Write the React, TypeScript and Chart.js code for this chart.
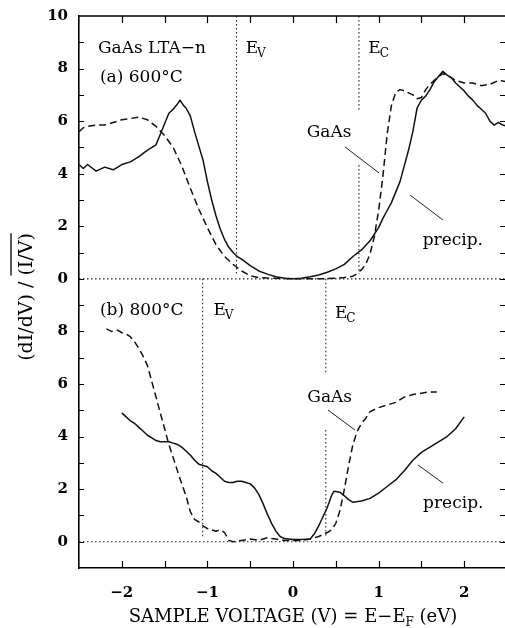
import React, { useEffect, useRef } from "react";
import { Chart, registerables } from "chart.js";

Chart.register(...registerables);

// ---------- Panel (a) 600°C : values relative to the panel's own zero ----------
const aPrecipV = [-2.5, -2.45, -2.4, -2.3, -2.2, -2.1, -2.0, -1.9, -1.8, -1.7, -1.6, -1.55, -1.5, -1.45, -1.4, -1.35, -1.32, -1.28, -1.25, -1.2, -1.15, -1.1, -1.05, -1.0, -0.95, -0.9, -0.85, -0.8, -0.75, -0.7, -0.65, -0.6, -0.5, -0.4, -0.3, -0.2, -0.1, 0.0, 0.1, 0.2, 0.3, 0.4, 0.5, 0.6, 0.7, 0.8, 0.9, 1.0, 1.05, 1.1, 1.15, 1.2, 1.25, 1.3, 1.35, 1.4, 1.45, 1.5, 1.55, 1.6, 1.65, 1.7, 1.75, 1.8, 1.85, 1.9, 1.95, 2.0, 2.05, 2.1, 2.15, 2.2, 2.25, 2.3, 2.35, 2.4, 2.45, 2.5];
const aPrecipY = [4.35, 4.2, 4.35, 4.1, 4.25, 4.15, 4.35, 4.45, 4.65, 4.9, 5.1, 5.5, 5.9, 6.3, 6.45, 6.65, 6.8, 6.6, 6.5, 6.2, 5.6, 5.05, 4.5, 3.7, 3.0, 2.4, 1.9, 1.5, 1.2, 1.0, 0.85, 0.75, 0.5, 0.3, 0.18, 0.08, 0.02, 0.0, 0.02, 0.08, 0.15, 0.25, 0.38, 0.55, 0.85, 1.1, 1.45, 1.95, 2.3, 2.6, 2.9, 3.3, 3.7, 4.3, 4.9, 5.6, 6.5, 6.8, 6.95, 7.2, 7.5, 7.7, 7.9, 7.75, 7.65, 7.45, 7.3, 7.15, 6.95, 6.8, 6.6, 6.45, 6.3, 6.0, 5.85, 5.95, 5.85, 5.8];
const aGaAsV = [-2.5, -2.45, -2.4, -2.3, -2.2, -2.1, -2.0, -1.9, -1.8, -1.7, -1.6, -1.5, -1.4, -1.3, -1.2, -1.1, -1.0, -0.9, -0.8, -0.7, -0.6, -0.5, -0.4, -0.3, 0.0, 0.3, 0.5, 0.6, 0.7, 0.75, 0.8, 0.85, 0.9, 0.95, 1.0, 1.05, 1.1, 1.15, 1.2, 1.25, 1.3, 1.4, 1.45, 1.5, 1.55, 1.6, 1.7, 1.75, 1.8, 1.9, 2.0, 2.1, 2.2, 2.3, 2.4, 2.5];
const aGaAsY = [5.6, 5.75, 5.8, 5.85, 5.85, 5.95, 6.05, 6.1, 6.15, 6.05, 5.8, 5.45, 5.0, 4.3, 3.45, 2.65, 1.95, 1.3, 0.85, 0.55, 0.3, 0.12, 0.05, 0.03, 0.0, 0.0, 0.02, 0.05, 0.1, 0.2, 0.35, 0.55, 0.95, 1.6, 2.6, 3.9, 5.5, 6.6, 7.1, 7.2, 7.15, 7.0, 6.85, 6.9, 7.2, 7.4, 7.7, 7.8, 7.75, 7.55, 7.45, 7.45, 7.35, 7.4, 7.55, 7.5];

// ---------- Panel (b) 800°C ----------
const bPrecipV = [-2.0, -1.95, -1.9, -1.85, -1.8, -1.75, -1.7, -1.65, -1.6, -1.55, -1.5, -1.45, -1.4, -1.35, -1.3, -1.25, -1.2, -1.15, -1.1, -1.05, -1.0, -0.95, -0.9, -0.85, -0.8, -0.75, -0.7, -0.65, -0.6, -0.55, -0.5, -0.45, -0.4, -0.35, -0.3, -0.25, -0.2, -0.15, -0.1, 0.0, 0.1, 0.2, 0.25, 0.3, 0.35, 0.4, 0.45, 0.48, 0.55, 0.6, 0.65, 0.7, 0.8, 0.9, 1.0, 1.1, 1.2, 1.3, 1.4, 1.5, 1.6, 1.7, 1.8, 1.9, 2.0];
const bPrecipY = [4.9, 4.75, 4.6, 4.5, 4.35, 4.2, 4.05, 3.95, 3.85, 3.8, 3.8, 3.8, 3.75, 3.7, 3.6, 3.45, 3.3, 3.1, 2.95, 2.9, 2.85, 2.7, 2.6, 2.45, 2.3, 2.25, 2.25, 2.3, 2.3, 2.25, 2.2, 2.05, 1.8, 1.45, 1.05, 0.7, 0.4, 0.2, 0.12, 0.08, 0.08, 0.1, 0.3, 0.6, 0.95, 1.3, 1.75, 1.92, 1.88, 1.75, 1.6, 1.5, 1.55, 1.65, 1.85, 2.1, 2.35, 2.7, 3.1, 3.4, 3.6, 3.8, 4.0, 4.3, 4.75];
const bGaAsV = [-2.18, -2.12, -2.05, -2.0, -1.95, -1.9, -1.85, -1.8, -1.75, -1.7, -1.65, -1.6, -1.55, -1.5, -1.45, -1.4, -1.35, -1.3, -1.25, -1.2, -1.15, -1.1, -1.05, -1.0, -0.95, -0.9, -0.85, -0.8, -0.75, -0.7, -0.6, -0.5, -0.4, -0.3, -0.2, -0.1, 0.0, 0.1, 0.2, 0.3, 0.4, 0.45, 0.5, 0.55, 0.6, 0.65, 0.7, 0.75, 0.8, 0.85, 0.9, 1.0, 1.1, 1.2, 1.3, 1.4, 1.5, 1.6, 1.68];
const bGaAsY = [8.1, 8.0, 8.05, 7.95, 7.9, 7.8, 7.6, 7.35, 7.05, 6.7, 6.1, 5.5, 4.9, 4.3, 3.7, 3.2, 2.7, 2.2, 1.75, 1.15, 0.85, 0.75, 0.6, 0.5, 0.45, 0.4, 0.45, 0.35, 0.05, 0.0, 0.05, 0.1, 0.05, 0.15, 0.1, 0.05, 0.05, 0.05, 0.1, 0.2, 0.35, 0.45, 0.7, 1.2, 2.0, 2.9, 3.7, 4.2, 4.5, 4.7, 4.95, 5.1, 5.2, 5.3, 5.5, 5.6, 5.65, 5.7, 5.7];

// Panel (a) is stacked on top of panel (b): its zero sits at 10 on the shared axis
const panelOffsetA = 10;
const xRange = [-2.5, 2.5];
const yRange = [-1, 20];

// band edges (eV)
const evA = -0.66;
const ecA = 0.77;
const evB = -1.055;
const ecB = 0.383;
// gaps in the Ec markers where the text sits (shared-axis units)
const ecGapA = [16.42, 14.33];
const ecGapB = [6.42, 4.25];

// tick labels
const xTickValues = [-2, -1, 0, 1, 2];
const xTickLabels = ["\u22122", "\u22121", "0", "1", "2"];
const yTickValues = [0, 2, 4, 6, 8, 10, 12, 14, 16, 18, 20];
const yTickLabels = ["0", "2", "4", "6", "8", "0", "2", "4", "6", "8", "10"];

// text annotations (data coordinates of text baseline-left)
const notes = [
  { text: "GaAs LTA\u2212n", x: -2.278, y: 18.59 },
  { text: "(a) 600\u00B0C", x: -2.255, y: 17.49 },
  { text: "GaAs", x: 0.16, y: 15.4 },
  { text: "precip.", x: 1.515, y: 11.29 },
  { text: "(b) 800\u00B0C", x: -2.255, y: 8.625 },
  { text: "GaAs", x: 0.167, y: 5.32 },
  { text: "precip.", x: 1.52, y: 1.28 },
];
const bandNotes = [
  { main: "E", sub: "V", x: -0.553, y: 18.59 },
  { main: "E", sub: "C", x: 0.88, y: 18.59 },
  { main: "E", sub: "V", x: -0.93, y: 8.625 },
  { main: "E", sub: "C", x: 0.49, y: 8.51 },
];
// leader lines from labels to curves
const leaders = [
  [{ x: 0.607, y: 15.02 }, { x: 1.005, y: 14.03 }],
  [{ x: 1.367, y: 13.19 }, { x: 1.752, y: 12.24 }],
  [{ x: 0.409, y: 5.01 }, { x: 0.724, y: 4.25 }],
  [{ x: 1.46, y: 2.92 }, { x: 1.752, y: 2.23 }],
];

const FONT = "'DejaVu Serif', serif";

function pts(xs: number[], ys: number[], off = 0) {
  return xs.map((x, i) => ({ x, y: ys[i] + off }));
}

const decorPlugin = {
  id: "decor",
  afterDraw(chart: any) {
    const { ctx, chartArea: ca, scales } = chart;
    const xs = scales.x;
    const ys = scales.y;
    ctx.save();
    ctx.strokeStyle = "#000";
    ctx.fillStyle = "#000";
    // inward ticks
    ctx.lineWidth = 1.2;
    ctx.beginPath();
    ys.ticks.forEach((t: any) => {
      if (t.value <= ys.min || t.value >= ys.max) return;
      const py = Math.round(ys.getPixelForValue(t.value)) + 0.5;
      ctx.moveTo(ca.left, py);
      ctx.lineTo(ca.left + 5, py);
      ctx.moveTo(ca.right - 7, py);
      ctx.lineTo(ca.right, py);
    });
    xs.ticks.forEach((t: any) => {
      if (t.value <= xs.min || t.value >= xs.max) return;
      const px = Math.round(xs.getPixelForValue(t.value)) + 0.5;
      ctx.moveTo(px, ca.bottom);
      ctx.lineTo(px, ca.bottom - 7);
      ctx.moveTo(px, ca.top);
      ctx.lineTo(px, ca.top + 7);
    });
    ctx.stroke();
    // top & right border
    ctx.lineWidth = 1.5;
    ctx.beginPath();
    ctx.moveTo(ca.left, ca.top);
    ctx.lineTo(ca.right, ca.top);
    ctx.lineTo(ca.right, ca.bottom);
    ctx.stroke();

    // annotations
    ctx.textAlign = "left";
    ctx.textBaseline = "alphabetic";
    ctx.font = `17px ${FONT}`;
    notes.forEach((n) => {
      ctx.fillText(n.text, xs.getPixelForValue(n.x), ys.getPixelForValue(n.y));
    });
    bandNotes.forEach((n) => {
      const px = xs.getPixelForValue(n.x);
      const py = ys.getPixelForValue(n.y);
      ctx.font = `17px ${FONT}`;
      ctx.fillText(n.main, px, py);
      const w = ctx.measureText(n.main).width;
      ctx.font = `12px ${FONT}`;
      ctx.fillText(n.sub, px + w - 1, py + 4);
    });

    // x-axis title with subscript
    const cx = xs.getPixelForValue(0);
    const by = 622;
    const big = `18px ${FONT}`;
    const small = `12px ${FONT}`;
    const p1 = "SAMPLE VOLTAGE (V) = E\u2212E";
    const p2 = "F";
    const p3 = " (eV)";
    ctx.font = big;
    const w1 = ctx.measureText(p1).width;
    const w3 = ctx.measureText(p3).width;
    ctx.font = small;
    const w2 = ctx.measureText(p2).width;
    let sx = cx - (w1 + w2 + w3) / 2;
    ctx.font = big;
    ctx.fillText(p1, sx, by);
    sx += w1;
    ctx.font = small;
    ctx.fillText(p2, sx, by + 4);
    sx += w2;
    ctx.font = big;
    ctx.fillText(p3, sx, by);

    // y-axis title with overline on (I/V)
    const t1 = "(dI/dV) / ";
    const t2 = "(I/V)";
    ctx.font = `19px ${FONT}`;
    const tw1 = ctx.measureText(t1).width;
    const tw2 = ctx.measureText(t2).width;
    const tw = tw1 + tw2;
    ctx.translate(27, 297);
    ctx.rotate(-Math.PI / 2);
    ctx.textBaseline = "middle";
    ctx.fillText(t1 + t2, -tw / 2, 0);
    ctx.lineWidth = 1.3;
    ctx.beginPath();
    ctx.moveTo(-tw / 2 + tw1, -16);
    ctx.lineTo(tw / 2, -16);
    ctx.stroke();
    ctx.restore();
  },
};

export default function App() {
  const ref = useRef<HTMLCanvasElement>(null);
  useEffect(() => {
    if (!ref.current) return;
    const solid = { borderColor: "#111", borderWidth: 1.5, pointRadius: 0, fill: false, tension: 0 };
    const dashed = { ...solid, borderDash: [7, 4] };
    const dotted = { borderColor: "#222", borderWidth: 1.1, pointRadius: 0, fill: false, borderDash: [1.5, 2.5], spanGaps: false };
    const leader = { borderColor: "#222", borderWidth: 1, pointRadius: 0, fill: false };
    const datasets: any[] = [
      { ...dotted, data: [{ x: xRange[0], y: 0 }, { x: xRange[1], y: 0 }] },
      { ...dotted, data: [{ x: xRange[0], y: panelOffsetA }, { x: xRange[1], y: panelOffsetA }] },
      { ...dotted, data: [{ x: evA, y: yRange[1] }, { x: evA, y: panelOffsetA + 0.2 }] },
      { ...dotted, data: [{ x: ecA, y: yRange[1] }, { x: ecA, y: ecGapA[0] }, { x: ecA, y: null }, { x: ecA, y: ecGapA[1] }, { x: ecA, y: panelOffsetA + 0.2 }] },
      { ...dotted, data: [{ x: evB, y: panelOffsetA }, { x: evB, y: 0.2 }] },
      { ...dotted, data: [{ x: ecB, y: panelOffsetA }, { x: ecB, y: ecGapB[0] }, { x: ecB, y: null }, { x: ecB, y: ecGapB[1] }, { x: ecB, y: 0.2 }] },
      { ...solid, label: "precip. (a)", data: pts(aPrecipV, aPrecipY, panelOffsetA) },
      { ...dashed, label: "GaAs (a)", data: pts(aGaAsV, aGaAsY, panelOffsetA) },
      { ...solid, label: "precip. (b)", data: pts(bPrecipV, bPrecipY) },
      { ...dashed, label: "GaAs (b)", data: pts(bGaAsV, bGaAsY) },
      ...leaders.map((l) => ({ ...leader, data: l })),
    ];
    const tickFont = { family: FONT, size: 15, weight: "bold" as const };
    const chart = new Chart(ref.current, {
      type: "line",
      data: { datasets },
      options: {
        animation: false,
        responsive: false,
        devicePixelRatio: 1,
        layout: { padding: { top: 16, right: 1, left: 0, bottom: 0 } },
        plugins: { legend: { display: false }, tooltip: { enabled: false } },
        elements: { line: { borderJoinStyle: "round" } },
        scales: {
          x: {
            type: "linear",
            min: xRange[0],
            max: xRange[1],
            grid: { display: false, drawTicks: false },
            border: { display: true, color: "#000", width: 1.6 },
            ticks: {
              stepSize: 0.5,
              padding: 16,
              color: "#000",
              font: tickFont,
              maxRotation: 0,
              autoSkip: false,
              callback: (v: any) => {
                const i = xTickValues.indexOf(Number(v));
                return i >= 0 ? xTickLabels[i] : "";
              },
            },
            afterFit: (s: any) => {
              s.height = 60;
              s.paddingLeft = 0;
              s.paddingRight = 0;
            },
          },
          y: {
            type: "linear",
            min: yRange[0],
            max: yRange[1],
            grid: { display: false, drawTicks: false },
            border: { display: true, color: "#000", width: 1.6 },
            ticks: {
              stepSize: 1,
              padding: 11,
              color: "#000",
              font: tickFont,
              autoSkip: false,
              callback: (v: any) => {
                const i = yTickValues.indexOf(Number(v));
                return i >= 0 ? yTickLabels[i] : "";
              },
            },
            afterFit: (s: any) => {
              s.width = 79;
              s.paddingTop = 0;
              s.paddingBottom = 0;
            },
          },
        },
      },
      plugins: [decorPlugin],
    });
    return () => chart.destroy();
  }, []);
  return (
    <div style={{ position: "fixed", left: 0, top: 0, width: 505, height: 628, overflow: "hidden", background: "#fff" }}>
      <canvas ref={ref} width={508} height={628} style={{ display: "block" }} />
    </div>
  );
}
